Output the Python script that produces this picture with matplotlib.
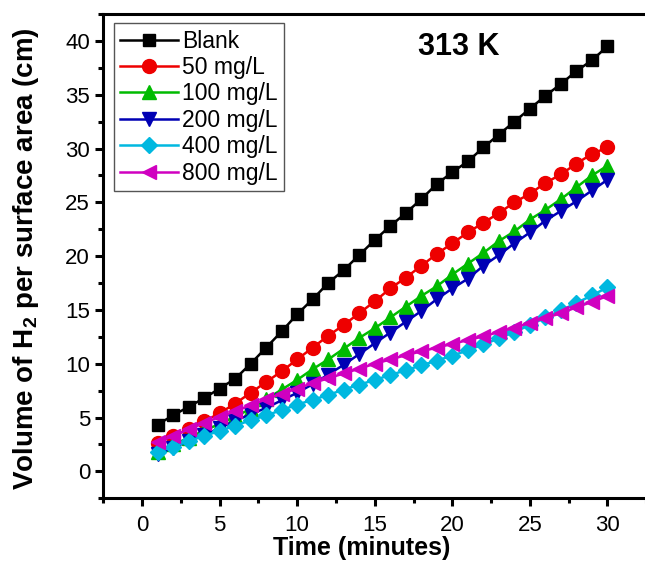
# -*- coding: utf-8 -*-
"""H2 hacmi / yuzey alani - 313 K, farkli inhibitor derisimleri."""
import matplotlib
matplotlib.use("Agg")
import matplotlib.pyplot as plt
from matplotlib.ticker import MultipleLocator

plt.rcParams["font.family"] = ["Liberation Sans", "DejaVu Sans"]
plt.rcParams["mathtext.fontset"] = "custom"
plt.rcParams["mathtext.bf"] = "Liberation Sans:bold"
plt.rcParams["mathtext.rm"] = "Liberation Sans"

# --- veri ---
zaman = list(range(1, 31))
blank = [4.35, 5.2, 6.0, 6.8, 7.7, 8.6, 10.0, 11.5, 13.0, 14.6, 16.0, 17.5, 18.7, 20.1, 21.5,
         22.8, 24.0, 25.3, 26.7, 27.8, 28.8, 30.1, 31.3, 32.5, 33.7, 34.9, 36.0, 37.2, 38.2, 39.5]
mg50 = [2.6, 3.3, 3.9, 4.65, 5.4, 6.3, 7.3, 8.3, 9.3, 10.4, 11.5, 12.6, 13.6, 14.7, 15.8,
        17.0, 18.0, 19.1, 20.2, 21.2, 22.2, 23.1, 24.0, 25.0, 25.8, 26.8, 27.6, 28.6, 29.5, 30.1]
mg100 = [1.8, 2.5, 3.1, 3.8, 4.4, 5.1, 5.8, 6.7, 7.6, 8.5, 9.5, 10.4, 11.4, 12.4, 13.3,
         14.3, 15.3, 16.3, 17.2, 18.3, 19.3, 20.3, 21.4, 22.3, 23.4, 24.3, 25.3, 26.4, 27.5, 28.4]
mg200 = [1.6, 2.2, 2.8, 3.4, 4.0, 4.7, 5.3, 5.9, 6.6, 7.3, 8.1, 9.0, 9.9, 10.9, 11.9,
         12.9, 13.9, 14.9, 16.0, 17.0, 17.9, 19.1, 20.1, 21.2, 22.2, 23.3, 24.2, 25.1, 26.1, 27.1]
mg400 = [1.8, 2.3, 2.8, 3.3, 3.75, 4.25, 4.75, 5.2, 5.7, 6.2, 6.65, 7.1, 7.6, 8.05, 8.5,
         8.95, 9.4, 9.85, 10.3, 10.75, 11.25, 11.8, 12.35, 12.95, 13.6, 14.3, 14.95, 15.65, 16.35, 17.1]
mg800 = [2.7, 3.3, 3.9, 4.5, 5.05, 5.6, 6.15, 6.7, 7.2, 7.7, 8.2, 8.65, 9.1, 9.55, 10.0,
         10.4, 10.8, 11.15, 11.5, 11.85, 12.2, 12.55, 12.95, 13.35, 13.8, 14.25, 14.7, 15.25, 15.75, 16.3]

seriler = [
    ("Blank", blank, "#000000", "s", 9),
    ("50 mg/L", mg50, "#ee0000", "o", 10),
    ("100 mg/L", mg100, "#00bb00", "^", 10.5),
    ("200 mg/L", mg200, "#0000b4", "v", 10.5),
    ("400 mg/L", mg400, "#00b8e0", "D", 8),
    ("800 mg/L", mg800, "#d000c0", "<", 10.5),
]

fig = plt.figure(figsize=(6.45, 5.64), dpi=100)
ax = fig.add_axes([0.160, 0.1165, 0.842, 0.8587])

for ad, y, renk, mk, ms in seriler:
    ax.plot(zaman, y, color=renk, lw=1.8, marker=mk, ms=ms, mec=renk, mfc=renk, label=ad)

ax.set_xlim(-2.5, 32.5)
ax.set_ylim(-2.5, 42.5)
ax.xaxis.set_major_locator(MultipleLocator(5))
ax.xaxis.set_minor_locator(MultipleLocator(2.5))
ax.yaxis.set_major_locator(MultipleLocator(5))
ax.yaxis.set_minor_locator(MultipleLocator(2.5))
ax.tick_params(which="major", direction="out", length=6, width=2.2, labelsize=16,
               top=False, right=False)
ax.tick_params(axis="x", which="major", pad=6)
ax.tick_params(which="minor", direction="out", length=3.5, width=2.2, top=False, right=False)
for s in ax.spines.values():
    s.set_linewidth(2.2)
ax.spines["right"].set_visible(False)

ax.set_xlabel("Time (minutes)", fontsize=18, fontweight="bold")
ax.xaxis.set_label_coords(0.476, -0.078)
ax.set_ylabel(r"Volume of H$_\mathbf{2}$ per surface area (cm)", fontsize=20,
              fontweight="bold")
ax.yaxis.set_label_coords(-0.115, 0.494)

ax.text(20.4, 39.4, "313 K", fontsize=22, fontweight="bold", ha="center", va="center")

leg = ax.legend(loc="upper left", bbox_to_anchor=(0.02, 0.981), borderaxespad=0, fontsize=16.5,
                fancybox=False, framealpha=1, edgecolor="#555555", handlelength=2.5,
                handletextpad=0.2, labelspacing=0.15, borderpad=0.28)
leg.get_frame().set_linewidth(1.0)

plt.savefig("out.png", dpi=100)
